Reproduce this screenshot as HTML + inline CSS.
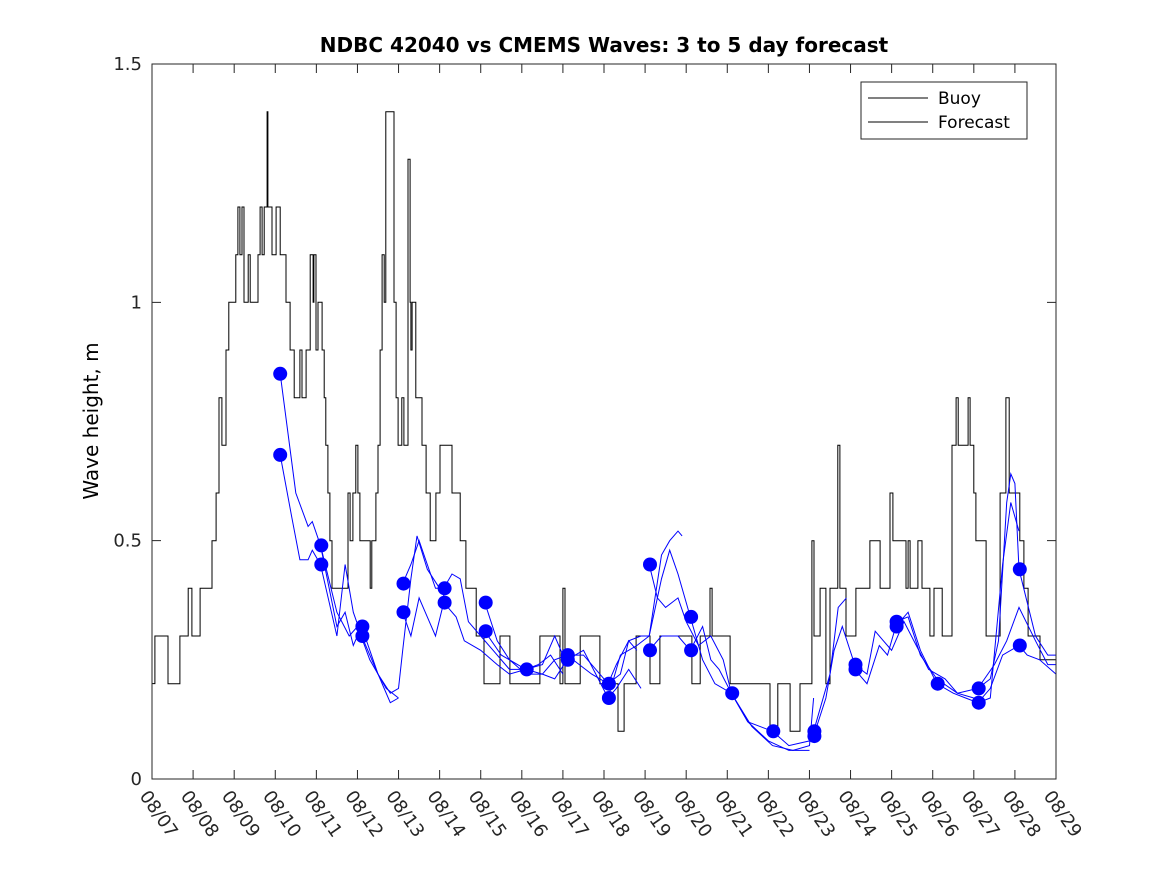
<!DOCTYPE html>
<html><head><meta charset="utf-8"><style>
body{margin:0;background:#fff;}
svg{display:block;font-family:"DejaVu Sans","Liberation Sans",sans-serif;}
</style></head><body>
<svg id="chart" width="1167" height="875" viewBox="0 0 1167 875">
<rect width="1167" height="875" fill="#fff"/>
<text x="604" y="52" text-anchor="middle" font-size="20" font-weight="bold">NDBC 42040 vs CMEMS Waves: 3 to 5 day forecast</text>
<text transform="translate(98,421) rotate(-90)" text-anchor="middle" font-size="20">Wave height, m</text>
<g id="plot"></g>
<g id="axes"></g>
<g>
<rect x="861" y="82" width="166" height="57" fill="#fff" stroke="#262626" stroke-width="1"/>
<line x1="868" y1="98" x2="928" y2="98" stroke="#000" stroke-width="1"/>
<text x="938" y="104" font-size="17">Buoy</text>
<line x1="868" y1="122" x2="928" y2="122" stroke="#000" stroke-width="1"/>
<text x="938" y="128" font-size="17">Forecast</text>
</g>
</svg>
<script>
const xTickLabels=["08/07","08/08","08/09","08/10","08/11","08/12","08/13","08/14","08/15","08/16","08/17","08/18","08/19","08/20","08/21","08/22","08/23","08/24","08/25","08/26","08/27","08/28","08/29"];
const yTicks=[0,0.5,1,1.5];
const yTickLabels=["0","0.5","1","1.5"];
const buoyDays=[0,0.07,0.39,0.68,0.88,0.97,1.17,1.46,1.56,1.63,1.70,1.80,1.87,2.04,2.09,2.14,2.19,2.24,2.34,2.39,2.58,2.63,2.68,2.73,2.80,2.82,2.92,3.02,3.12,3.21,3.26,3.36,3.46,3.60,3.65,3.75,3.85,3.92,3.94,3.99,4.04,4.14,4.19,4.23,4.28,4.33,4.38,4.43,4.53,4.77,4.82,4.89,4.96,5.01,5.06,5.26,5.31,5.35,5.45,5.50,5.55,5.60,5.65,5.69,5.79,5.89,5.94,5.99,6.08,6.13,6.23,6.28,6.30,6.33,6.42,6.52,6.57,6.67,6.77,6.91,6.96,7.01,7.16,7.30,7.40,7.50,7.54,7.64,7.84,7.89,8.08,8.47,8.71,8.76,9.44,9.52,9.93,10.0,10.05,10.10,10.42,10.46,10.90,11.34,11.49,11.78,12.12,12.36,13.09,13.14,13.34,13.58,13.63,13.77,14.07,14.99,15.04,15.23,15.53,15.77,15.96,16.06,16.11,16.26,16.40,16.50,16.55,16.69,16.74,16.79,16.89,17.13,17.47,17.57,17.72,17.77,17.96,18.03,18.11,18.35,18.40,18.45,18.64,18.74,18.93,19.03,19.23,19.42,19.47,19.57,19.62,19.86,19.91,20.00,20.05,20.25,20.30,20.59,20.64,20.78,20.86,20.93,21.12,21.22,21.32,21.37,21.61,22];
const buoyVals=[0.2,0.3,0.2,0.3,0.4,0.3,0.4,0.5,0.6,0.8,0.7,0.9,1.0,1.1,1.2,1.1,1.2,1.0,1.1,1.0,1.1,1.2,1.1,1.2,1.4,1.2,1.1,1.2,1.1,1.1,1.0,0.9,0.8,0.9,0.8,0.9,1.1,1.0,1.1,0.9,1.0,0.9,0.8,0.7,0.6,0.5,0.4,0.4,0.4,0.6,0.5,0.6,0.7,0.6,0.5,0.5,0.4,0.5,0.6,0.7,0.9,1.1,1.0,1.4,1.4,1.0,0.8,0.7,0.8,0.7,1.3,1.0,0.9,1.0,0.8,0.8,0.7,0.6,0.5,0.6,0.6,0.7,0.7,0.6,0.6,0.5,0.5,0.4,0.4,0.3,0.2,0.3,0.2,0.2,0.3,0.3,0.2,0.4,0.2,0.2,0.3,0.3,0.2,0.1,0.2,0.3,0.2,0.3,0.3,0.2,0.3,0.4,0.3,0.3,0.2,0.2,0.1,0.2,0.1,0.2,0.2,0.5,0.3,0.4,0.2,0.4,0.4,0.7,0.4,0.4,0.3,0.4,0.5,0.5,0.4,0.4,0.6,0.5,0.5,0.4,0.5,0.4,0.5,0.4,0.3,0.4,0.3,0.3,0.7,0.8,0.7,0.8,0.7,0.6,0.5,0.5,0.3,0.3,0.6,0.8,0.6,0.6,0.5,0.4,0.3,0.3,0.25,0.25];
const runDays=[
[3.12,3.5,3.8,3.9,4.1,4.5,4.8,5.0,5.3,5.7,6.0],
[3.12,3.4,3.6,3.8,3.9,4.1,4.5,4.7,4.9,5.1,5.5,5.8,6.0],
[4.1,4.5,4.7,4.9,5.1,5.5,5.8,6.0,6.1,6.3,6.45,6.7,7.0,7.2],
[6.1,6.3,6.5,6.7,6.9,7.1,7.3,7.5,7.7,8.0,8.3,8.7,9.1,9.5,9.8,10.0],
[6.1,6.3,6.5,6.7,6.9,7.1,7.4,7.6,8.0,8.4,8.7,9.1,9.4,9.7,10.0],
[8.1,8.4,8.7,9.1,9.5,9.8,10.1,10.4,10.7,11.1,11.4,11.6,11.8],
[8.1,8.5,9.1,9.5,9.8,10.1,10.5,10.8,11.1,11.3,11.6,11.9],
[10.1,10.5,11.1,11.3,11.6,11.9,12.1,12.4,12.6,12.8,12.9],
[11.1,11.4,11.8,12.1,12.4,12.6,12.8,13.1,13.4,13.7,14.1,14.5,15.0,15.5,16.0],
[12.1,12.3,12.5,12.8,13.0,13.3,13.6,13.9,14.1,14.5,15.1,15.5,16.0,16.1],
[12.1,12.4,12.8,13.1,13.4,13.6,13.8,14.1,14.6,15.1,15.6,16.0,16.1],
[16.1,16.4,16.6,16.8,17.1,17.4,17.6,17.8,18.0,18.3,18.6,18.9,19.3,19.6,20.0],
[16.1,16.5,16.7,16.9],
[17.1,17.4,17.7,17.9,18.1,18.4,18.7,19.1,19.5,19.8,20.1,20.4,20.7,20.9,21.1],
[18.1,18.4,18.7,19.1,19.6,20.1,20.4,20.6,20.8,20.9,21.0,21.1,21.5,21.8,22.0],
[20.1,20.5,20.8,21.1,21.5,21.8,22.0],
[20.1,20.4,20.7,21.1,21.3,21.6,22.0]];
const runVals=[
[0.85,0.6,0.53,0.54,0.49,0.35,0.30,0.32,0.25,0.19,0.17],
[0.68,0.55,0.46,0.46,0.48,0.45,0.30,0.45,0.35,0.30,0.22,0.16,0.17],
[0.49,0.32,0.35,0.28,0.32,0.22,0.18,0.19,0.27,0.42,0.51,0.44,0.40,0.37],
[0.41,0.45,0.50,0.45,0.40,0.40,0.43,0.42,0.33,0.30,0.27,0.23,0.23,0.24,0.30,0.26],
[0.35,0.30,0.38,0.34,0.30,0.37,0.34,0.29,0.27,0.24,0.22,0.23,0.24,0.26,0.22],
[0.37,0.29,0.25,0.22,0.22,0.25,0.26,0.24,0.22,0.20,0.22,0.29,0.27],
[0.31,0.26,0.23,0.22,0.21,0.25,0.27,0.22,0.17,0.19,0.23,0.19],
[0.26,0.26,0.20,0.24,0.29,0.30,0.30,0.47,0.50,0.52,0.51],
[0.17,0.26,0.28,0.30,0.42,0.48,0.43,0.34,0.25,0.20,0.18,0.12,0.08,0.06,0.06],
[0.45,0.38,0.36,0.38,0.33,0.28,0.30,0.25,0.18,0.12,0.10,0.07,0.08,0.10],
[0.27,0.30,0.30,0.27,0.32,0.25,0.23,0.18,0.11,0.07,0.06,0.07,0.17],
[0.09,0.17,0.27,0.32,0.24,0.22,0.31,0.29,0.27,0.33,0.28,0.23,0.21,0.18,0.17],
[0.10,0.22,0.36,0.38],
[0.23,0.20,0.28,0.26,0.32,0.35,0.27,0.20,0.18,0.17,0.16,0.17,0.45,0.58,0.52],
[0.33,0.34,0.26,0.21,0.18,0.19,0.21,0.29,0.58,0.64,0.62,0.44,0.30,0.26,0.26],
[0.19,0.24,0.29,0.36,0.29,0.24,0.24],
[0.16,0.19,0.26,0.28,0.26,0.25,0.22]];
const dotDays=[3.12,3.12,4.12,4.12,5.12,5.12,6.12,6.12,7.12,7.12,8.12,8.12,9.12,10.12,10.12,11.12,11.12,12.12,12.12,13.12,13.12,14.12,15.12,16.12,16.12,17.12,17.12,18.12,18.12,19.12,20.12,20.12,21.12,21.12];
const dotVals=[0.85,0.68,0.49,0.45,0.32,0.30,0.41,0.35,0.40,0.37,0.37,0.31,0.23,0.26,0.25,0.20,0.17,0.45,0.27,0.34,0.27,0.18,0.10,0.10,0.09,0.24,0.23,0.33,0.32,0.20,0.19,0.16,0.44,0.28];

const NS="http://www.w3.org/2000/svg";
const X0=152,X1=1056,Y0=779,Y1=64,DMAX=22,VMAX=1.5;
function xs(d){return X0+(X1-X0)*d/DMAX;}
function ys(v){return Y0-(Y0-Y1)*v/VMAX;}
const plot=document.getElementById('plot');
const axes=document.getElementById('axes');

let p="M"+xs(buoyDays[0])+","+ys(buoyVals[0]);
for(let i=1;i<buoyDays.length;i++){
  p+=" H"+xs(buoyDays[i]).toFixed(1)+" V"+ys(buoyVals[i]).toFixed(1);
}
const bl=document.createElementNS(NS,'path');
bl.setAttribute('d',p);bl.setAttribute('fill','none');bl.setAttribute('stroke','#000');bl.setAttribute('stroke-width','1');


plot.appendChild(bl);

for(let r=0;r<runDays.length;r++){
  const pts=runDays[r].map((d,i)=>xs(d).toFixed(1)+","+ys(runVals[r][i]).toFixed(1)).join(" ");
  const pl=document.createElementNS(NS,'polyline');
  pl.setAttribute('points',pts);pl.setAttribute('fill','none');pl.setAttribute('stroke','#0000ff');pl.setAttribute('stroke-width','1');
  
  
  plot.appendChild(pl);
}
for(let i=0;i<dotDays.length;i++){
  const c=document.createElementNS(NS,'circle');
  c.setAttribute('cx',xs(dotDays[i]).toFixed(1));c.setAttribute('cy',ys(dotVals[i]).toFixed(1));c.setAttribute('r','7');c.setAttribute('fill','#0000ff');
  
  
  plot.appendChild(c);
}
const box=document.createElementNS(NS,'rect');
box.setAttribute('x',X0);box.setAttribute('y',Y1);box.setAttribute('width',X1-X0);box.setAttribute('height',Y0-Y1);
box.setAttribute('fill','none');box.setAttribute('stroke','#262626');box.setAttribute('stroke-width','1');


axes.appendChild(box);
for(let i=0;i<xTickLabels.length;i++){
  const x=xs(i);
  const t1=document.createElementNS(NS,'path');
  t1.setAttribute('d',`M${x},${Y0} v-9 M${x},${Y1} v9`);t1.setAttribute('stroke','#262626');
  
  
  axes.appendChild(t1);
  const tx=document.createElementNS(NS,'text');
  tx.setAttribute('transform',`translate(${x-13},${796}) rotate(55)`);
  tx.setAttribute('font-size','18');tx.setAttribute('fill','#262626');
  tx.textContent=xTickLabels[i];
  
  
  axes.appendChild(tx);
}
for(let i=0;i<yTicks.length;i++){
  const y=ys(yTicks[i]);
  const t1=document.createElementNS(NS,'path');
  t1.setAttribute('d',`M${X0},${y} h9 M${X1},${y} h-9`);t1.setAttribute('stroke','#262626');
  
  
  axes.appendChild(t1);
  const tx=document.createElementNS(NS,'text');
  tx.setAttribute('x',X0-10);tx.setAttribute('y',y+6);tx.setAttribute('text-anchor','end');
  tx.setAttribute('font-size','18');tx.setAttribute('fill','#262626');
  tx.textContent=yTickLabels[i];
  
  
  axes.appendChild(tx);
}
</script>
</body></html>
